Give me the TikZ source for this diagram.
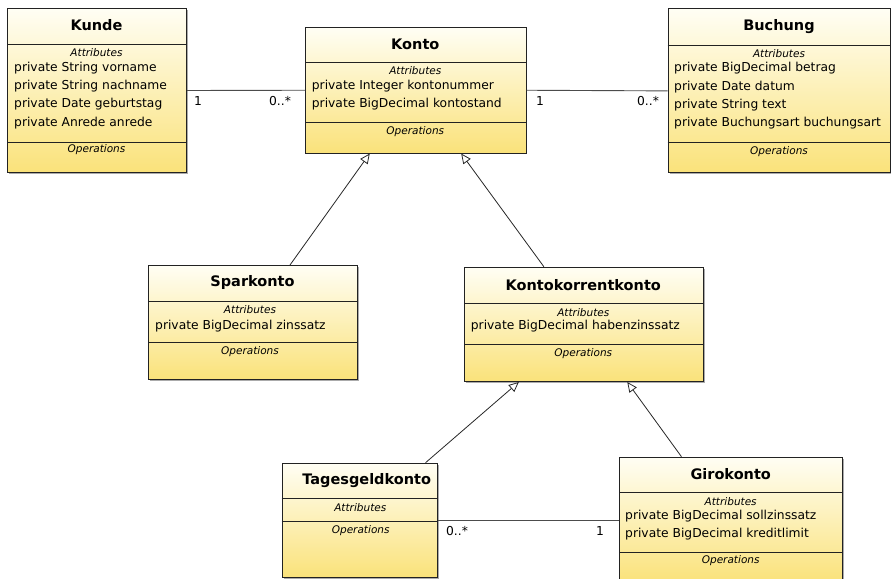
\documentclass[tikz,border=0pt]{standalone}
\usepackage{fontspec}
\setmainfont{DejaVu Sans}
\usetikzlibrary{arrows.meta,shadows}
\definecolor{ctop}{HTML}{FFFEF4}
\definecolor{cbot}{HTML}{FAE27A}
\definecolor{cbord}{HTML}{222222}
\tikzset{
 classbox/.style={draw=cbord, line width=1pt, top color=ctop, bottom color=cbot, inner sep=0pt, anchor=north west,
   drop shadow={shadow xshift=1.3pt, shadow yshift=-1.3pt, fill=black!55, opacity=0.6}},
 sepline/.style={draw=cbord, line width=0.9pt},
 ctitle/.style={font=\fontsize{14.5}{16}\selectfont\bfseries, inner sep=0pt},
 csec/.style={font=\fontsize{10.5}{12}\selectfont\itshape, inner sep=0pt},
 cattr/.style={font=\fontsize{12.3}{14}\selectfont, inner sep=0pt, anchor=west},
 assoc/.style={draw=black!70, line width=0.9pt},
 inherit/.style={draw=black!85, line width=0.8pt, -{Triangle[open, length=10pt, width=9pt]}},
 mult/.style={font=\fontsize{12.3}{14}\selectfont, inner sep=0pt},
}
\newcommand\umlbox[7]{%
 \node[classbox, minimum width={#4-#2}, minimum height={#5-#3}] (#1) at (#2,#3) {};
 \draw[sepline] (#2,#6) -- (#4,#6);
 \draw[sepline] (#2,#7) -- (#4,#7);
}
\begin{document}
\begin{tikzpicture}[x=1pt,y=-1pt]
\useasboundingbox (0,0) rectangle (891,578);
% Kunde
\umlbox{kunde}{7}{8}{186}{172}{44}{142}
\node[ctitle] (kundeT) at (96.5,25) {Kunde};
\node[csec] (kundeA) at (96.5,53) {Attributes};
\node[cattr] (kunde1) at (14,67.7) {private String vorname};
\node[cattr] (kunde2) at (14,86) {private String nachname};
\node[cattr] (kunde3) at (14,104.3) {private Date geburtstag};
\node[cattr] (kunde4) at (14,122.7) {private Anrede anrede};
\node[csec] (kundeO) at (96.5,150) {Operations};
% Konto
\umlbox{konto}{305}{27}{525.5}{152.5}{62.3}{122.3}
\node[ctitle] (kontoT) at (415.3,44.3) {Konto};
\node[csec] (kontoA) at (415.3,71) {Attributes};
\node[cattr] (konto1) at (311.7,85.7) {private Integer kontonummer};
\node[cattr] (konto2) at (311.7,103.7) {private BigDecimal kontostand};
\node[csec] (kontoO) at (415.3,131.7) {Operations};
% Buchung
\umlbox{buchung}{667.7}{8.5}{890.3}{172.3}{45.3}{142.3}
\node[ctitle] (buchungT) at (779,26.7) {Buchung};
\node[csec] (buchungA) at (779,54) {Attributes};
\node[cattr] (buchung1) at (674,68.3) {private BigDecimal betrag};
\node[cattr] (buchung2) at (674,86.7) {private Date datum};
\node[cattr] (buchung3) at (674,105.3) {private String text};
\node[cattr] (buchung4) at (674,123.3) {private Buchungsart buchungsart};
\node[csec] (buchungO) at (779,151.7) {Operations};
% Sparkonto
\umlbox{spar}{148}{265}{357}{379}{301.7}{342.3}
\node[ctitle] (sparT) at (252.5,282.7) {Sparkonto};
\node[csec] (sparA) at (250,310) {Attributes};
\node[cattr] (spar1) at (155,325.7) {private BigDecimal zinssatz};
\node[csec] (sparO) at (250,351.7) {Operations};
% Kontokorrentkonto
\umlbox{kk}{464}{266.7}{702.7}{381}{303.3}{344.3}
\node[ctitle] (kkT) at (583.3,285) {Kontokorrentkonto};
\node[csec] (kkA) at (583.3,312.3) {Attributes};
\node[cattr] (kk1) at (470.7,326) {private BigDecimal habenzinssatz};
\node[csec] (kkO) at (583.3,353.7) {Operations};
% Tagesgeldkonto
\umlbox{tages}{281.7}{462.7}{437}{577}{498.3}{521}
\node[ctitle] (tagesT) at (366.7,480.7) {Tagesgeldkonto};
\node[csec] (tagesA) at (360.3,507.3) {Attributes};
\node[csec] (tagesO) at (360.7,531) {Operations};
% Girokonto
\umlbox{giro}{619}{456.7}{842.3}{582}{492.7}{552.3}
\node[ctitle] (giroT) at (730.7,474) {Girokonto};
\node[csec] (giroA) at (730.7,501.7) {Attributes};
\node[cattr] (giro1) at (625,516) {private BigDecimal sollzinssatz};
\node[cattr] (giro2) at (625,534) {private BigDecimal kreditlimit};
\node[csec] (giroO) at (730.7,561) {Operations};
% associations
\draw[assoc] (kunde.east) -- (konto.west);
\draw[assoc] (konto.east) -- (buchung.west);
\draw[assoc] (tages.east) -- (tages.east -| giro.west);
\node[mult] (m1) at (198,101) {1};
\node[mult] (m2) at (280,101) {0..*};
\node[mult] (m3) at (540,101.5) {1};
\node[mult] (m4) at (648,101) {0..*};
\node[mult] (m5) at (457,531) {0..*};
\node[mult] (m6) at (600,531) {1};
% inheritance
\draw[inherit] ([xshift=37pt]spar.north) -- ([xshift=-46pt]konto.south);
\draw[inherit] ([xshift=-40pt]kk.north) -- ([xshift=45.4pt]konto.south);
\draw[inherit] ([xshift=65.7pt]tages.north) -- ([xshift=-65pt]kk.south);
\draw[inherit] ([xshift=-49.7pt]giro.north) -- ([xshift=43.4pt]kk.south);
\end{tikzpicture}
\end{document}
